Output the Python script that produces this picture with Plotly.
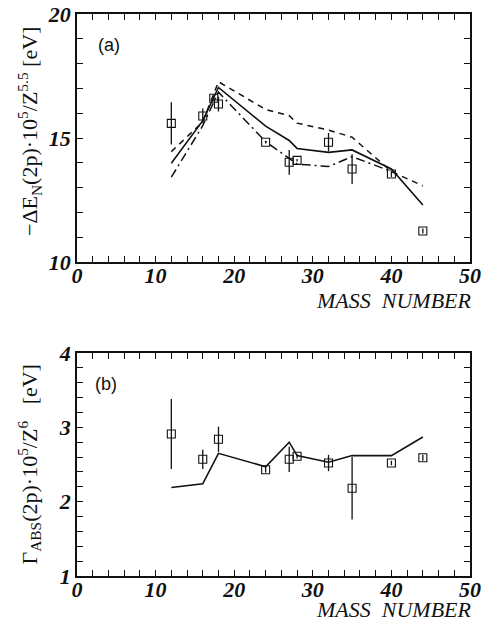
import plotly.graph_objects as go

# ---- panel (a) data ----
a_mass = [12, 16, 17.4, 18, 24, 27, 28, 32, 35, 40, 44]
a_val = [15.59, 15.89, 16.60, 16.37, 14.83, 14.02, 14.10, 14.83, 13.75, 13.55, 11.25]
a_err = [0.85, 0.30, 0.12, 0.30, 0.05, 0.50, 0.05, 0.37, 0.60, 0.12, 0.10]

solid_mass = [12, 16, 18, 24, 27, 28, 32, 35, 40, 44]
solid_val = [13.98, 15.70, 17.04, 15.48, 14.90, 14.58, 14.42, 14.52, 13.75, 12.30]

dash_mass = [12, 16, 18, 24, 27, 28, 32, 35, 40, 44]
dash_val = [14.45, 15.65, 17.27, 16.15, 15.90, 15.60, 15.32, 15.03, 13.65, 13.07]

dashdot_mass = [12, 16, 18, 24, 28, 32, 35, 40]
dashdot_val = [13.42, 15.50, 16.85, 14.85, 13.95, 13.85, 14.25, 13.65]

# ---- panel (b) data ----
b_mass = [12, 16, 18, 24, 27, 28, 32, 35, 40, 44]
b_val = [2.91, 2.57, 2.84, 2.43, 2.57, 2.61, 2.52, 2.18, 2.52, 2.59]
b_err = [0.47, 0.13, 0.17, 0.04, 0.17, 0.03, 0.11, 0.42, 0.03, 0.04]

b_line_mass = [12, 16, 18, 24, 27, 28, 32, 35, 40, 44]
b_line_val = [2.19, 2.24, 2.65, 2.47, 2.80, 2.62, 2.53, 2.62, 2.62, 2.87]

INK = "#111111"
marker = dict(symbol="square-open", size=8, color=INK, line=dict(width=1.1, color=INK))

fig = go.Figure()
fig.add_trace(go.Scatter(x=solid_mass, y=solid_val, mode="lines",
                         line=dict(color=INK, width=1.6), xaxis="x", yaxis="y"))
fig.add_trace(go.Scatter(x=dash_mass, y=dash_val, mode="lines",
                         line=dict(color=INK, width=1.5, dash="6px,5px"), xaxis="x", yaxis="y"))
fig.add_trace(go.Scatter(x=dashdot_mass, y=dashdot_val, mode="lines",
                         line=dict(color=INK, width=1.5, dash="9px,4px,2px,4px"), xaxis="x", yaxis="y"))
fig.add_trace(go.Scatter(x=a_mass, y=a_val, mode="markers", marker=marker,
                         error_y=dict(type="data", array=a_err, width=0, thickness=1.3, color=INK),
                         xaxis="x", yaxis="y"))

fig.add_trace(go.Scatter(x=b_line_mass, y=b_line_val, mode="lines",
                         line=dict(color=INK, width=1.6), xaxis="x2", yaxis="y2"))
fig.add_trace(go.Scatter(x=b_mass, y=b_val, mode="markers", marker=marker,
                         error_y=dict(type="data", array=b_err, width=0, thickness=1.3, color=INK),
                         xaxis="x2", yaxis="y2"))

SERIF = "Liberation Serif"
tickfont = dict(family=SERIF, size=22, color=INK, weight="bold", style="italic")

def xax(anchor):
    return dict(range=[0, 50], tickvals=[0, 10, 20, 30, 40, 50], ticks="inside", ticklen=6,
                tickwidth=1.2, tickcolor=INK, showline=True, linecolor=INK, linewidth=1.6,
                mirror="allticks", showgrid=False, zeroline=False, tickfont=tickfont,
                ticklabelstandoff=-7, automargin=False,
                minor=dict(dtick=2, tick0=0, ticks="inside", ticklen=6, tickwidth=1.2, tickcolor=INK),
                anchor=anchor, domain=[0, 1])

def yax(anchor, rng, tv, mdt, dom):
    return dict(range=rng, tickvals=tv, ticks="inside", ticklen=6, tickwidth=1.2, tickcolor=INK,
                showline=True, linecolor=INK, linewidth=1.6, mirror="allticks", showgrid=False,
                zeroline=False, tickfont=tickfont, automargin=False,
                minor=dict(dtick=mdt, tick0=rng[0], ticks="inside", ticklen=6, tickwidth=1.2, tickcolor=INK),
                anchor=anchor, domain=dom)

title_font = dict(family=SERIF, size=22, color=INK)
xt_font = dict(family=SERIF, size=22, color=INK, style="italic")
lab_font = dict(family="Liberation Sans", size=18, color=INK)

NB = "\u00a0"
fig.update_layout(
    width=481, height=621,
    margin=dict(l=77, r=11, t=14, b=45, autoexpand=False),
    paper_bgcolor="white", plot_bgcolor="white",
    showlegend=False,
    xaxis=xax("y"),
    yaxis=yax("x", [10, 20], [10, 15, 20], 1, [0.5587, 1]),
    xaxis2=xax("y2"),
    yaxis2=yax("x2", [1, 4], [1, 2, 3, 4], 0.2, [0, 0.3968]),
    annotations=[
        dict(text="−ΔE<sub>N</sub>(2p)·10<sup>5</sup>/Z<sup>5.5</sup>" + NB + "[eV]", textangle=-90,
             xref="paper", x=0, xanchor="center", xshift=-48,
             yref="y domain", y=0.5, yanchor="middle", yshift=6,
             showarrow=False, font=title_font),
        dict(text="Γ<sub>ABS</sub>(2p)·10<sup>5</sup>/Z<sup>6</sup>" + NB * 3 + "[eV]", textangle=-90,
             xref="paper", x=0, xanchor="center", xshift=-48,
             yref="y2 domain", y=0.5, yanchor="middle",
             showarrow=False, font=title_font),
        dict(text="MASS" + NB * 2 + "NUMBER", xref="paper", x=1, xanchor="right", xshift=4,
             yref="y domain", y=0, yanchor="middle", yshift=-38,
             showarrow=False, font=xt_font),
        dict(text="MASS" + NB * 2 + "NUMBER", xref="paper", x=1, xanchor="right", xshift=4,
             yref="y2 domain", y=0, yanchor="middle", yshift=-33,
             showarrow=False, font=xt_font),
        dict(text="(a)", xref="paper", x=0, xanchor="left", xshift=19,
             yref="y domain", y=1, yanchor="middle", yshift=-31,
             showarrow=False, font=lab_font),
        dict(text="(b)", xref="paper", x=0, xanchor="left", xshift=16,
             yref="y2 domain", y=1, yanchor="middle", yshift=-31,
             showarrow=False, font=lab_font),
    ],
)

fig.write_html("out.html", post_script="document.body.style.margin='0';",
               config={"displayModeBar": False})
